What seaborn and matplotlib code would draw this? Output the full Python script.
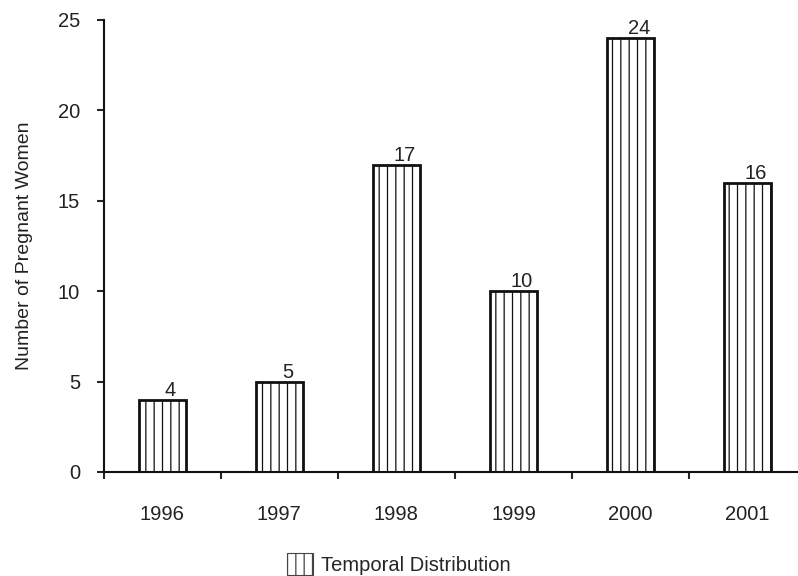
import pandas as pd
import seaborn as sns
import matplotlib.pyplot as plt
from matplotlib.patches import Patch

years = ["1996", "1997", "1998", "1999", "2000", "2001"]
counts = [4, 5, 17, 10, 24, 16]
series_name = "Temporal Distribution"

df = pd.DataFrame({"Year": years, "Count": counts})

sns.set_style("ticks")
plt.rcParams["font.family"] = ["Liberation Sans", "DejaVu Sans"]
plt.rcParams["hatch.color"] = "#555555"
plt.rcParams["hatch.linewidth"] = 0.9

fs = 14.5
tc = "#222222"

fig = plt.figure(figsize=(7.98, 5.76), dpi=100)
ax = fig.add_axes([0.130, 0.1806, 0.870, 0.785])

sns.barplot(data=df, x="Year", y="Count", ax=ax, width=0.4,
            color="white", edgecolor="#111111", linewidth=2, saturation=1)
for p in ax.patches:
    p.set_hatch("||")

# value labels above bars
for p, v in zip(ax.patches, counts):
    ax.annotate(str(v), (p.get_x() + p.get_width() / 2, p.get_height()),
                xytext=(6, 0), textcoords="offset points",
                ha="center", va="bottom", fontsize=fs, color=tc)

ax.set_xlim(-0.5, 5.43)
ax.set_ylim(0, 25)
ax.set_yticks([0, 5, 10, 15, 20, 25])
ax.set_xlabel("")
ax.set_ylabel("Number of Pregnant Women", fontsize=fs - 0.5, color=tc, labelpad=18)
sns.despine(ax=ax)
for s in ["left", "bottom"]:
    ax.spines[s].set_linewidth(1.5)
    ax.spines[s].set_color("#111111")
ax.tick_params(axis="y", length=5, width=1.5, pad=12, labelsize=fs, labelcolor=tc)
# x ticks fall between categories in the reference
ax.set_xticks([i - 0.5 for i in range(6)], minor=False)
ax.set_xticklabels([])
ax.tick_params(axis="x", length=5, width=1.5)
ax.set_xticks(range(6), minor=True)
ax.set_xticklabels(years, minor=True)
ax.tick_params(axis="x", which="minor", length=0, pad=24, labelsize=fs, labelcolor=tc)

handle = Patch(facecolor="white", edgecolor="#444444", hatch="||", linewidth=0.8)
fig.legend([handle], [series_name], loc="lower center", bbox_to_anchor=(0.5, -0.03),
           frameon=False, fontsize=fs, handlelength=1.3, handleheight=1.3, handletextpad=0.4)

fig.savefig("out.png", dpi=100)
